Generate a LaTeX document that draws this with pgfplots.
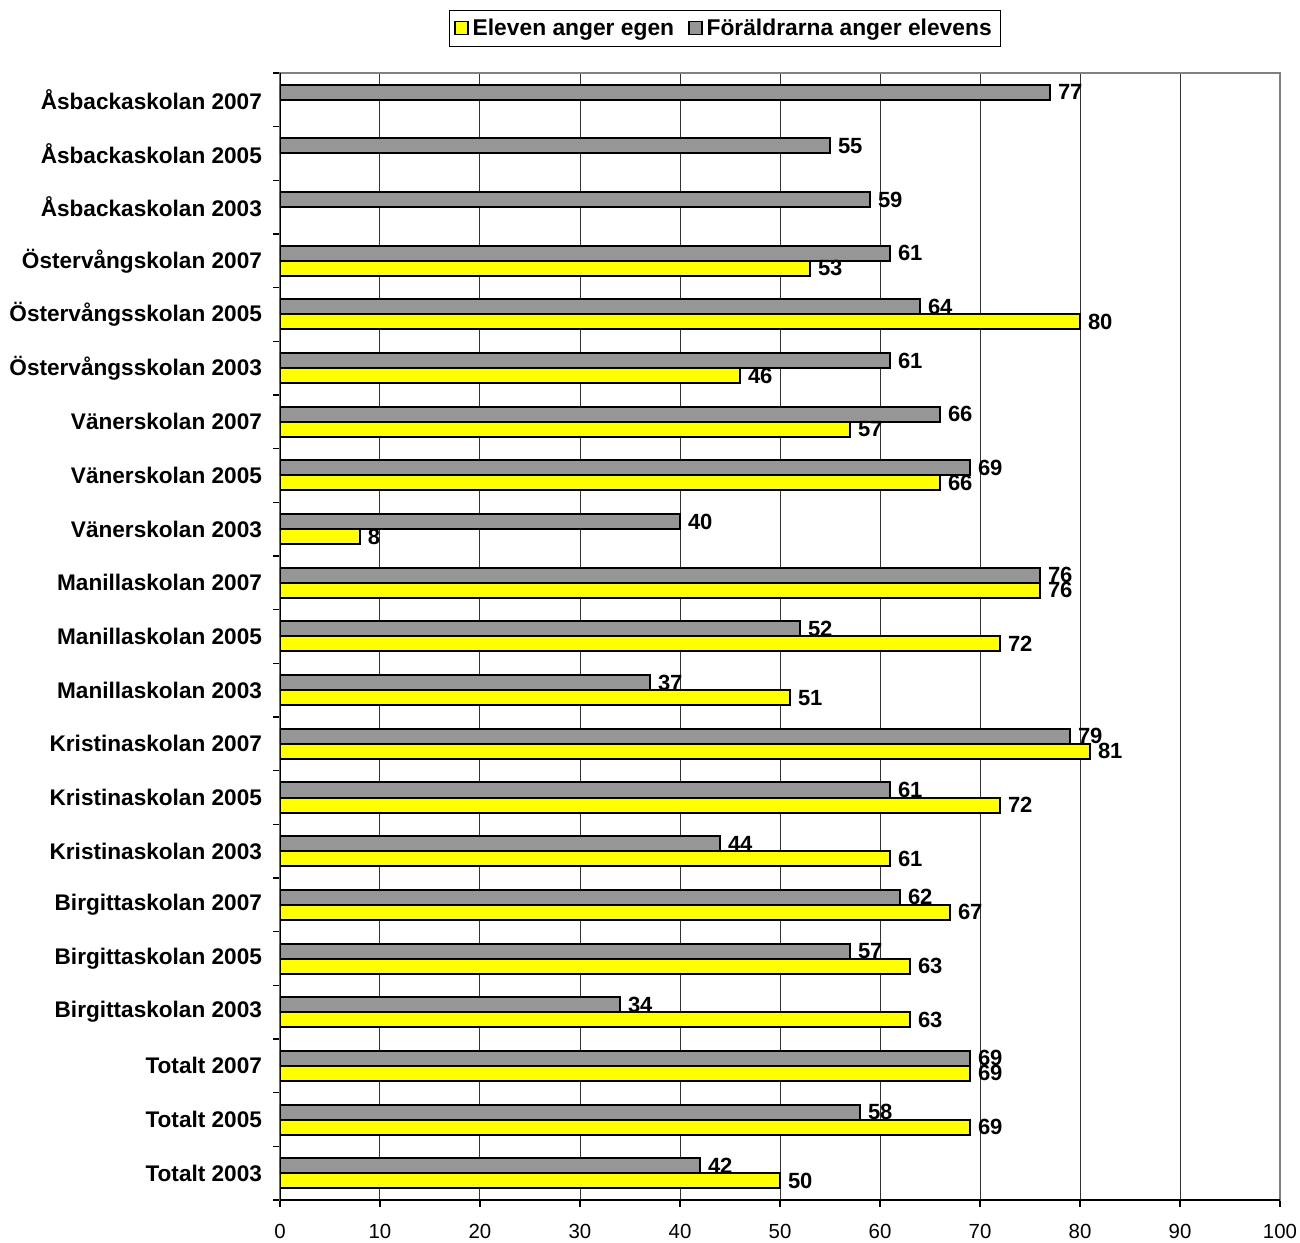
\documentclass[border=0pt]{standalone}
\usepackage{pgfplots}
\pgfplotsset{compat=1.18}
\usepackage{fontspec}
\setmainfont{Liberation Sans}
\definecolor{barY}{RGB}{255,255,0}
\definecolor{barG}{RGB}{150,150,150}
\definecolor{frameG}{RGB}{128,128,128}
\begin{document}
\begin{tikzpicture}
\useasboundingbox (-140pt,-21pt) rectangle (510pt,600pt);
\begin{axis}[
  scale only axis, width=500pt, height=563.5pt,
  xmin=0, xmax=100, ymin=-0.5, ymax=20.5,
  xbar, bar width=7.5pt,
  xtick={0,10,...,100},
  ytick={0,...,20},
  yticklabels={Totalt 2003,Totalt 2005,Totalt 2007,Birgittaskolan 2003,Birgittaskolan 2005,Birgittaskolan 2007,Kristinaskolan 2003,Kristinaskolan 2005,Kristinaskolan 2007,Manillaskolan 2003,Manillaskolan 2005,Manillaskolan 2007,Vänerskolan 2003,Vänerskolan 2005,Vänerskolan 2007,Östervångsskolan 2003,Östervångsskolan 2005,Östervångskolan 2007,Åsbackaskolan 2003,Åsbackaskolan 2005,Åsbackaskolan 2007},
  minor ytick={-0.5,0.5,...,20.5},
  major y tick style={draw=none},
  tick align=outside,
  xtick pos=bottom, ytick pos=left,
  major tick length=3.5pt, minor tick length=3.5pt,
  tick style={black, line width=0.6pt},
  xmajorgrids, major grid style={black!80, line width=0.5pt},
  axis line style={frameG, line width=1pt},
  /pgf/number format/assume math mode=true,
  xticklabel style={font=\fontsize{10.2}{12}\selectfont, yshift=-5pt},
  yticklabel style={font=\bfseries\fontsize{11.3}{13}\selectfont, xshift=-2pt},
  legend style={at={(0.445,1)}, anchor=south, yshift=13pt, draw=black, line width=0.6pt,
    font=\bfseries\fontsize{11.4}{13}\selectfont, inner xsep=2.5pt, inner ysep=2pt,
    /tikz/every even column/.append style={column sep=5pt}},
  legend columns=2,
  legend image code/.code={\draw[#1, line width=0.7pt] (0pt,-3pt) rectangle (6.5pt,3.5pt);},
  nodes near coords,
  nodes near coords style={font=\bfseries\fontsize{11}{12}\selectfont, black, inner xsep=3.5pt},
]
\addplot[fill=barY, draw=black, line width=1pt, bar shift=-3.75pt] coordinates {
 (50,0) (69,1) (69,2) (63,3) (63,4) (67,5) (61,6) (72,7) (81,8) (51,9) (72,10) (76,11) (8,12) (66,13) (57,14) (46,15) (80,16) (53,17)
};
\addplot[fill=barG, draw=black, line width=1pt, bar shift=3.75pt] coordinates {
 (42,0) (58,1) (69,2) (34,3) (57,4) (62,5) (44,6) (61,7) (79,8) (37,9) (52,10) (76,11) (40,12) (69,13) (66,14) (61,15) (64,16) (61,17) (59,18) (55,19) (77,20)
};
\legend{Eleven anger egen, Föräldrarna anger elevens}
\draw[black, line width=1pt] (rel axis cs:0,1) -- (rel axis cs:0,0) -- (rel axis cs:1,0);
\end{axis}
\end{tikzpicture}
\end{document}
